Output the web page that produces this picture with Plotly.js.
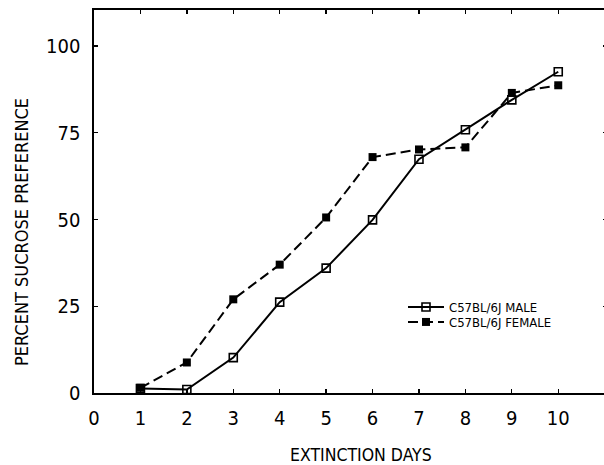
<!DOCTYPE html>
<html>
<head>
<meta charset="utf-8">
<script src="https://cdn.plot.ly/plotly-3.0.1.min.js"></script>
<style>
html,body{margin:0;padding:0;overflow:hidden;background:#fff;width:604px;height:465px;}
#chart{width:607px;height:465px;}
</style>
</head>
<body>
<div id="chart"></div>
<script>
const days = [1, 2, 3, 4, 5, 6, 7, 8, 9, 10];
const maleValues = [1.3, 1.0, 10.2, 26.2, 36.0, 49.9, 67.4, 75.9, 84.5, 92.6];
const femaleValues = [1.5, 8.8, 27.0, 37.0, 50.6, 68.0, 70.2, 70.8, 86.5, 88.7];
const xTickVals = [0, 1, 2, 3, 4, 5, 6, 7, 8, 9, 10];
const xTickText = ['0', '1', '2', '3', '4', '5', '6', '7', '8', '9', '10'];
const yTickVals = [0, 25, 50, 75, 100];
const yTickText = ['0', '25', '50', '75', '100'];
const seriesNames = ['C57BL/6J MALE', 'C57BL/6J FEMALE'];
const xTitle = 'EXTINCTION DAYS';
const yTitle = 'PERCENT SUCROSE PREFERENCE';

const FONT = '"Liberation Sans Narrow", "DejaVu Sans Condensed", "Arial Narrow", sans-serif';

// plot area geometry (pixels)
const L = 94, T = 10, W = 513, H = 383;
const px = x => (x - L) / W;           // pixel -> paper x
const py = y => (T + H - y) / H;       // pixel -> paper y

const traces = [
  {
    x: days, y: maleValues, name: seriesNames[0], type: 'scatter', mode: 'lines+markers',
    legend: 'legend',
    line: {color: '#000', width: 2},
    marker: {symbol: 'square-open', size: 8, color: '#000', line: {width: 1.6, color: '#000'}}
  },
  {
    x: days, y: femaleValues, name: seriesNames[1], type: 'scatter', mode: 'lines+markers',
    legend: 'legend2',
    line: {color: '#000', width: 2, dash: '10px,5px'},
    marker: {symbol: 'square', size: 8, color: '#000'}
  }
];

const legendStyle = (yTopPx) => ({
  x: px(403), y: py(yTopPx), xanchor: 'left', yanchor: 'top',
  font: {family: FONT, size: 13, color: '#000'},
  bgcolor: 'rgba(0,0,0,0)', borderwidth: 0, itemwidth: 36
});

const layout = {
  width: 607, height: 465,
  margin: {l: L, r: 607 - L - W, t: T, b: 465 - T - H},
  paper_bgcolor: '#fff', plot_bgcolor: '#fff',
  font: {family: FONT, color: '#000', size: 19},
  showlegend: true,
  legend: legendStyle(292),
  legend2: legendStyle(307),
  xaxis: {
    range: [0, 11.05], tickmode: 'array', tickvals: xTickVals, ticktext: xTickText,
    ticks: 'inside', ticklen: 4, tickwidth: 1.3, tickcolor: '#000',
    showline: true, linecolor: '#000', linewidth: 1.6, mirror: 'ticks',
    showgrid: false, zeroline: false, ticklabelstandoff: 6,
    tickfont: {family: FONT, size: 20, color: '#000'}
  },
  yaxis: {
    range: [0, 110.4], tickmode: 'array', tickvals: yTickVals, ticktext: yTickText,
    ticks: 'inside', ticklen: 4, tickwidth: 1.3, tickcolor: '#000',
    showline: true, linecolor: '#000', linewidth: 1.6, mirror: 'ticks',
    showgrid: false, zeroline: false, ticklabelstandoff: 8,
    tickfont: {family: FONT, size: 20, color: '#000'}
  },
  annotations: [
    {text: xTitle, xref: 'paper', yref: 'paper', x: px(361), y: py(455),
     xanchor: 'center', yanchor: 'middle', showarrow: false,
     font: {family: FONT, size: 17.5, color: '#000'}},
    {text: yTitle, xref: 'paper', yref: 'paper', x: px(21), y: py(232),
     xanchor: 'center', yanchor: 'middle', showarrow: false, textangle: -90,
     font: {family: FONT, size: 18, color: '#000'}}
  ]
};

Plotly.newPlot('chart', traces, layout, {displayModeBar: false, staticPlot: true});
</script>
</body>
</html>
